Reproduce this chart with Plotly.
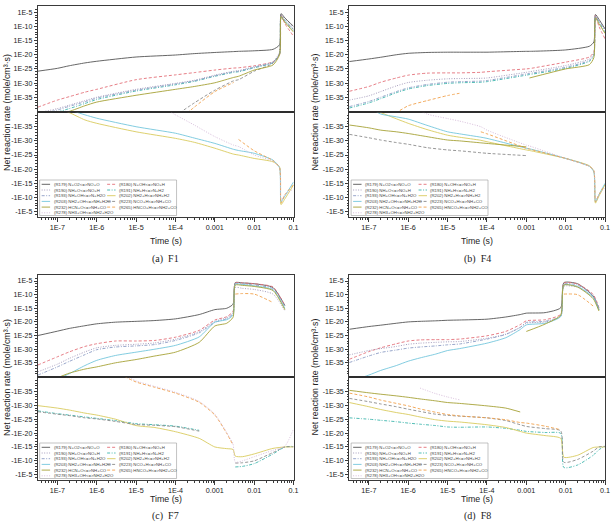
import plotly.graph_objects as go

W, H = 616, 523

REACTIONS = [
    "(R179) N+O2<=>NO+O", "(R180) N+OH<=>NO+H", "(R190) NH+O<=>NO+H",
    "(R191) NH+H<=>N+H2", "(R193) NH+OH<=>N+H2O", "(R202) NH2+H<=>NH+H2",
    "(R203) NH2+OH<=>NH+H2O", "(R223) NCO+H<=>NH+CO", "(R232) HCN+O<=>NH+CO",
    "(R265) HNCO+H<=>NH2+CO", "(R278) NH3+OH<=>NH2+H2O",
]
COLORS = ["#555555", "#e36f78", "#9d93b5", "#3db5ad", "#8c9cc4", "#d9cb5e",
          "#74c6dc", "#8a8a8a", "#a6a236", "#f0a04b", "#d2b6d6"]
DASHES = ["solid", "3px,2px", "1px,1.5px", "3px,1.5px,1px,1.5px", "3px,1.5px,1px,1.5px",
          "solid", "solid", "3px,2px", "solid", "3px,2px", "1px,1.5px"]

X_TICKS = [1e-7, 1e-6, 1e-5, 1e-4, 1e-3, 1e-2, 1e-1]
X_TICKTEXT = ["1E-7", "1E-6", "1E-5", "1E-4", "0.001", "0.01", "0.1"]
Y_TICKS = [1e-5, 1e-10, 1e-15, 1e-20, 1e-25, 1e-30, 1e-35]
Y_TICKTEXT_POS = ["1E-5", "1E-10", "1E-15", "1E-20", "1E-25", "1E-30", "1E-35"]
Y_TICKTEXT_NEG = ["-1E-5", "-1E-10", "-1E-15", "-1E-20", "-1E-25", "-1E-30", "-1E-35"]

# ---------------- (a) F1 ----------------
T_F1 = [3.2e-8, 1e-7, 2e-7, 5e-7, 1e-6, 1e-5, 1e-4, 3e-4, 1e-3, 3e-3, 4e-3, 1e-2, 3e-2, 4.4e-2, 4.8e-2, 6e-2, 1e-1]
F1_R179 = [1.6e-26, 1.6e-25, 1.3e-24, 1.3e-23, 5e-23, 1.6e-21, 8e-21, 2.5e-20, 6.3e-20, 1.3e-19, 1.6e-19, 2.5e-19, 8e-19, 3.2e-17, 3.2e-6, 1e-7, 1e-10]
F1_R180 = [3.2e-39, 1e-36, 1.6e-35, 6.3e-34, 6.3e-33, 1.6e-29, 8e-28, 5e-27, 4e-26, 2e-25, 2.5e-25, 1.3e-24, 3.2e-23, 1e-20, 1e-6, 1e-9, 3.2e-14]
F1_R190 = [3.2e-41, 1e-39, 1.6e-38, 6.3e-37, 1e-35, 6.3e-33, 8e-31, 1e-29, 6.3e-28, 1.6e-26, 2.5e-26, 6.3e-25, 3.2e-23, 1e-19, 1e-6, 3.2e-8, 3.2e-11]
F1_R191 = [3.2e-42, 6.3e-41, 1e-39, 6.3e-38, 1.6e-36, 1.6e-33, 2.5e-31, 4e-30, 2.5e-28, 6.3e-27, 1e-26, 2.5e-25, 1.6e-23, 1.6e-20, 3.2e-7, 1e-8, 3.2e-12]
F1_R193 = [1e-41, 3.2e-40, 6.3e-39, 2.5e-37, 5e-36, 3.2e-33, 5e-31, 6.3e-30, 4e-28, 1e-26, 1.6e-26, 4e-25, 2e-23, 3.2e-20, 6.3e-7, 1.6e-8, 1e-11]
F1_R202 = [None, -3.2e-42, -1e-40, -4e-38, -6.3e-37, -6.3e-34, -1.3e-31, -3.2e-30, -4e-28, -5e-26, -1e-25, -1.6e-24, -2.5e-23, -1.6e-21, -3.2e-8, -3.2e-10, -3.2e-15]
F1_R203 = [None, None, -1e-41, -6.3e-40, -1e-38, -1e-35, -2e-33, -1e-31, -8e-30, -1e-27, -2.5e-27, -2.5e-26, -6.3e-24, -3.2e-21, -3.2e-9, -3.2e-11, -3.2e-16]
F1_R223 = [None, None, None, None, None, None, 3.2e-42, 1e-37, 3.2e-33, 6.3e-30, 1.6e-29, 1.6e-26, 1e-23, 3.2e-20, 1.6e-7, 3.2e-9, 1e-11]
F1_R232 = [None, 1e-41, 1e-40, 1e-38, 2e-37, 5e-35, 6.3e-33, 6.3e-32, 1.3e-30, 1e-28, 2.5e-28, 4e-26, 2.5e-24, 1e-20, 3.2e-7, 3.2e-9, 1e-12]
F1_R265 = [None, None, None, None, None, None, 1e-44, 3.2e-39, 1e-33, 1.6e-30, -3.2e-31, -3.2e-27, -1e-23, -3.2e-21, -1e-8, -1e-11, -3.2e-15]
F1_R278 = [None, None, None, None, None, -1e-47, -6.3e-40, -2.5e-36, -3.2e-32, -3.2e-29, -1e-28, -1e-25, -1.6e-23, -3.2e-21, -1e-9, -1e-11, -1e-13]

# ---------------- (b) F4 ----------------
T_F4 = [3.2e-8, 1e-7, 2e-7, 5e-7, 1e-6, 3e-6, 1e-5, 2e-5, 7e-5, 1e-4, 1e-3, 1.2e-3, 1e-2, 4e-2, 5.2e-2, 5.7e-2, 7e-2, 1e-1]
F4_R179 = [4e-23, 3.2e-22, 1.3e-21, 1e-20, 3.2e-20, 6.3e-20, 8e-20, 8e-20, 8e-20, 8e-20, 1.6e-19, 1.6e-19, 5e-19, 1e-17, 3.2e-16, 1.6e-6, 3.2e-8, 1.3e-11]
F4_R180 = [1.3e-33, 6.3e-32, 2e-30, 6.3e-29, 6.3e-28, 3.2e-27, 4e-27, 4e-27, 6.3e-27, 1e-26, 1e-25, 1.3e-25, 2.5e-23, 1.6e-21, 1e-19, 1e-6, 1e-10, 4e-15]
F4_R190 = [1e-36, 3.2e-35, 1e-33, 1e-31, 1.6e-30, 1e-29, 3.2e-29, 4e-29, 5e-29, 6.3e-29, 6.3e-27, 1e-26, 1.6e-24, 3.2e-22, 3.2e-20, 6.3e-7, 1e-8, 1e-11]
F4_R191 = [1.6e-39, 1e-37, 3.2e-36, 4e-34, 8e-33, 1.3e-31, 8e-31, 1.3e-30, 2e-30, 3.2e-30, 6.3e-28, 1e-27, 1.6e-25, 5e-23, 5e-21, 2e-7, 3.2e-9, 1e-12]
F4_R193 = [5e-39, 3.2e-37, 1e-35, 1e-33, 2e-32, 3.2e-31, 2e-30, 3.2e-30, 5e-30, 8e-30, 1.6e-27, 2.5e-27, 4e-25, 1e-22, 1e-20, 3.2e-7, 6.3e-9, 3.2e-12]
F4_R202 = [None, -3.2e-42, -1e-40, -1.6e-38, -6.3e-37, -1e-34, -1e-32, -5e-32, -6.3e-31, -2e-30, -1.6e-27, -2.5e-27, -1.6e-24, -6.3e-22, -5e-20, -1e-8, -3.2e-11, -3.2e-15]
F4_R203 = [None, -1e-42, -3.2e-40, -3.2e-39, -2e-38, -3.2e-36, -6.3e-34, -3.2e-33, -5e-32, -1.3e-31, -4e-28, -6.3e-28, -1.6e-24, -1e-21, -1e-19, -3.2e-9, -1e-11, -1e-15]
F4_R223 = [-5e-33, -8e-32, -5e-31, -4e-30, -1.6e-29, -2.5e-28, -1.6e-27, -3.2e-27, -1.6e-26, -2.5e-26, -1.6e-25, None, None, None, None, None, None, None]
F4_R232 = [-2.5e-36, -2.5e-35, -1.6e-34, -6.3e-34, -2.5e-33, -3.2e-32, -5e-31, -1e-30, -5e-30, -8e-30, -1.3e-28, 6.3e-29, 1e-25, 3.2e-24, 1e-21, 1e-7, 1e-9, 3.2e-13]
F4_R265 = [None, None, 3.2e-42, 5e-41, 1e-38, 6.3e-37, 4e-35, 2.5e-34, -6.3e-34, -3.2e-33, -4e-28, -8e-28, -1.6e-24, -1e-21, -3.2e-20, -3.2e-9, -1e-11, -3.2e-15]
F4_R278 = [None, None, None, None, -1e-43, -3.2e-40, -1.3e-38, -1e-37, -1e-35, -1.6e-34, -3.2e-29, -6.3e-29, -1.6e-24, -1e-21, -3.2e-20, -1e-9, -1e-11, -3.2e-14]

# ---------------- (c) F7 ----------------
T_F7 = [3.2e-8, 1e-7, 2e-7, 5e-7, 1e-6, 3e-6, 1e-5, 3e-5, 1e-4, 4e-4, 1e-3, 2e-3, 2.9e-3, 3.3e-3, 5e-3, 1e-2, 3e-2, 6e-2, 1e-1]
F7_R179 = [1e-25, 4e-24, 4e-23, 4e-22, 2e-21, 8e-21, 1.6e-20, 3.2e-20, 1.3e-19, 5e-18, 3.2e-16, 1e-15, 3.2e-14, 2.5e-6, 2e-6, 1e-6, 4e-8, 1e-14, None]
F7_R180 = [1.6e-36, 1.6e-33, 1e-31, 1e-29, 1e-28, 1e-27, 1e-27, 1.6e-27, 2.5e-26, 8e-24, 5e-20, 8e-19, 8e-17, 2e-6, 2e-6, 1e-6, 6.3e-8, 1e-14, None]
F7_R190 = [5e-39, 3.2e-36, 4e-34, 1e-31, 3.2e-30, 2.5e-29, 6.3e-29, 2e-28, 5e-27, 2.5e-24, 1.6e-20, 3.2e-19, 2.5e-17, 4e-8, 2e-8, 8e-9, 1.6e-10, 1.3e-16, None]
F7_R191 = [-1e-28, -1e-27, -3.2e-27, -1.6e-26, -5e-26, -3.2e-25, -4e-24, -1e-23, -3.2e-23, -1e-21, None, None, None, -1.6e-8, -1e-8, -1e-9, -3.2e-13, -1e-15, -6.3e-16]
F7_R193 = [3.2e-40, 3.2e-37, 3.2e-35, 1e-32, 6.3e-31, 6.3e-30, 1.6e-29, 5e-29, 1.6e-27, 1e-24, 6.3e-21, 1.6e-19, 1e-17, 1e-6, 8e-7, 3.2e-7, 1.6e-8, 3.2e-15, None]
F7_R202 = [-1.3e-30, -1e-29, -5e-29, -6.3e-28, -3.2e-27, -1e-25, -2e-23, -1e-22, -3.2e-21, -8e-19, -1e-15, -4e-15, -8e-15, -2e-12, -3.2e-12, -3.2e-13, -3.2e-15, -1e-15, -1e-15]
F7_R203 = [None, 1e-41, 1e-39, 1e-36, 8e-35, 5e-33, 8e-32, 1e-30, 2.5e-29, 3.2e-26, 8e-21, 6.3e-20, 3.2e-18, 6.3e-7, 5e-7, 1.6e-7, 6.3e-9, 1e-15, None]
F7_R223 = [-2e-28, -1.6e-27, -5e-27, -3.2e-26, -8e-26, -6.3e-25, -8e-24, -1.6e-23, -5e-23, -2e-21, None, None, None, -6.3e-10, -5e-10, -1e-10, -1e-13, -1e-15, -8e-16]
F7_R232 = [None, 3.2e-41, 1.6e-39, 5e-38, 3.2e-37, 1e-35, 1.6e-34, 3.2e-33, 8e-32, 3.2e-28, 3.2e-22, 3.2e-21, 5e-19, 3.2e-7, 2.5e-7, 1e-7, 3.2e-9, 3.2e-16, None]
F7_R265 = [None, None, None, None, None, -1e-42, -4e-39, -3.2e-37, -4e-35, -8e-32, -3.2e-27, -1.3e-20, -2e-16, 1.6e-10, 2.5e-10, 1.6e-10, 1.3e-13, None, None]
F7_R278 = [None, None, None, None, None, -3.2e-43, -1.6e-39, -1.6e-37, -2e-35, -4e-32, -1.6e-27, -6.3e-21, -1e-16, -3.2e-10, -1e-10, -3.2e-12, -1.6e-14, -5e-16, -3.2e-22]

# ---------------- (d) F8 ----------------
T_F8 = [3.2e-8, 1e-7, 2e-7, 5e-7, 1e-6, 2e-6, 5e-6, 1e-5, 2e-5, 1e-4, 3e-4, 7e-4, 1e-3, 3e-3, 7.5e-3, 9e-3, 2e-2, 5e-2, 7e-2, 1e-1]
F8_R179 = [2e-23, 2e-22, 6.3e-22, 3.2e-21, 1e-20, 1.6e-20, 2.5e-20, 4e-20, 5e-20, 1e-19, 6.3e-19, 5e-18, 1.6e-17, 2.5e-17, 1.6e-15, 2.5e-6, 1e-6, 3.2e-11, 4e-16, None]
F8_R180 = [2e-34, 1.3e-31, 3.2e-30, 1e-28, 1e-27, 2.5e-27, 3.2e-27, 3.2e-27, 5e-27, 8e-26, 3.2e-24, 1e-21, 2.5e-20, 6.3e-20, 6.3e-18, 1.6e-6, 8e-7, 1.3e-10, 1.6e-15, None]
F8_R190 = [8e-33, 3.2e-31, 1.6e-30, 1e-29, 6.3e-29, 1.6e-28, 3.2e-28, 5e-28, 6.3e-28, 1e-26, 3.2e-25, 1e-22, 3.2e-21, 1e-20, 1e-18, 1e-7, 5e-8, 1e-11, 3.2e-16, None]
F8_R191 = [-3.2e-26, -1e-25, -2.5e-25, -8e-25, -2.5e-24, -6.3e-24, -2e-23, -6.3e-23, -8e-23, -6.3e-23, -2e-22, -1e-21, -2.5e-21, -6.3e-21, -1.3e-20, -2.5e-8, -3.2e-9, -1e-12, -1e-14, -5e-16]
F8_R193 = [1.3e-35, 3.2e-33, 6.3e-32, 5e-31, 2.5e-30, 6.3e-30, 1.6e-29, 4e-29, 8e-29, 5e-27, 2.5e-25, 1e-22, 6.3e-21, 1.6e-20, 1.6e-18, 6.3e-7, 3.2e-7, 3.2e-11, 1e-15, None]
F8_R202 = [-1e-31, -3.2e-30, -3.2e-29, -4e-28, -2e-27, -1.6e-26, -1.6e-25, -5e-25, -1e-24, -1e-23, -1e-22, -2.5e-21, -1e-20, -8e-20, -8e-19, -5e-12, -1e-12, -1.6e-15, -1e-15, -1e-15]
F8_R203 = [1e-42, 3.2e-40, 1.6e-38, 1e-36, 4e-35, 6.3e-34, 1.6e-32, 3.2e-31, 1.6e-30, 1.6e-28, 1.6e-26, 1.6e-23, 8e-22, 3.2e-21, 1e-18, 3.2e-7, 1e-7, 1e-11, 2.5e-16, None]
F8_R223 = [-3.2e-33, -5e-32, -3.2e-31, -3.2e-30, -2.5e-29, -1.6e-28, -1.6e-27, -4e-27, -8e-27, -3.2e-26, -3.2e-25, -1e-23, -4e-23, -2.5e-22, -1.6e-21, -3.2e-10, -3.2e-11, -3.2e-14, -1e-15, -6.3e-16]
F8_R232 = [-4e-36, -3.2e-35, -1e-34, -4e-34, -1.3e-33, -5e-33, -2.5e-32, -1e-31, -2e-31, -1.6e-30, -1e-29, -2.5e-28, 3.2e-24, 1.6e-21, 3.2e-18, 3.2e-7, 6.3e-8, 3.2e-12, 1e-16, None]
F8_R265 = [-4e-35, -1e-33, -1.3e-32, -2e-31, -1.6e-30, -2e-29, -3.2e-28, -2e-27, -6.3e-27, -3.2e-26, -1.6e-25, -1.6e-24, -2.5e-24, -3.2e-23, -6.3e-22, 1.6e-10, 1e-10, 6.3e-15, None, None]
F8_R278 = [None, None, None, None, None, -6.3e-37, -6.3e-35, -1e-33, -1e-32, None, None, None, None, None, None, None, None, None, None, None]

PANELS = [
    dict(t=T_F1, col=0, row=0, cap="(a)  F1",
         series=[F1_R179, F1_R180, F1_R190, F1_R191, F1_R193, F1_R202, F1_R203, F1_R223, F1_R232, F1_R265, F1_R278]),
    dict(t=T_F4, col=1, row=0, cap="(b)  F4",
         series=[F4_R179, F4_R180, F4_R190, F4_R191, F4_R193, F4_R202, F4_R203, F4_R223, F4_R232, F4_R265, F4_R278]),
    dict(t=T_F7, col=0, row=1, cap="(c)  F7",
         series=[F7_R179, F7_R180, F7_R190, F7_R191, F7_R193, F7_R202, F7_R203, F7_R223, F7_R232, F7_R265, F7_R278]),
    dict(t=T_F8, col=1, row=1, cap="(d)  F8",
         series=[F8_R179, F8_R180, F8_R190, F8_R191, F8_R193, F8_R202, F8_R203, F8_R223, F8_R232, F8_R265, F8_R278]),
]

# pixel geometry of the panels
COL_X = [(38, 296), (352, 610)]
ROW_Y = [(6, 112, 217), (275, 377, 480)]
YTITLE_X = [7, 318]
TIME_Y = [241, 499]
CAP_Y = [259, 516]

FRAME = "#3a3a3a"
FONT = "Liberation Sans, Arial, sans-serif"


def px(x):
    return x / W


def py(y):
    return 1 - y / H


x_minor = [m * 10.0 ** d for d in range(-8, -1) for m in range(2, 10)]
y_minor = [10.0 ** d for d in range(-40, -3) if d % 5 != 0]

fig = go.Figure()
layout = dict(width=W, height=H, margin=dict(l=0, r=0, t=0, b=0),
              paper_bgcolor="white", plot_bgcolor="white", showlegend=False,
              font=dict(family=FONT, size=7, color="#222"))
shapes, annotations = [], []

for k, p in enumerate(PANELS):
    x0, x1 = COL_X[p["col"]]
    top, split, bot = ROW_Y[p["row"]]
    for part in (0, 1):
        n = 2 * k + 1 + part
        xname = "xaxis" if n == 1 else f"xaxis{n}"
        yname = "yaxis" if n == 1 else f"yaxis{n}"
        xr = "x" if n == 1 else f"x{n}"
        yr = "y" if n == 1 else f"y{n}"
        xa = dict(type="log", range=[-7.5, -1], domain=[px(x0), px(x1)], anchor=yr,
                  showline=True, mirror=True, linecolor=FRAME, linewidth=1,
                  showgrid=False, zeroline=False)
        if part == 1:
            xa.update(tickmode="array", tickvals=X_TICKS, ticktext=X_TICKTEXT,
                      ticks="outside", ticklen=3.5, tickwidth=0.8, tickcolor=FRAME,
                      tickfont=dict(size=7.2, family=FONT, color="#222"),
                      minor=dict(tickmode="array", tickvals=x_minor, ticks="outside",
                                 ticklen=2, tickwidth=0.6, tickcolor=FRAME, showgrid=False))
        else:
            xa.update(showticklabels=False, ticks="")
        layout[xname] = xa
        if part == 0:
            ya = dict(type="log", range=[-40.2, -2.8], domain=[py(split), py(top)],
                      ticktext=Y_TICKTEXT_POS)
        else:
            ya = dict(type="log", range=[-3.1, -40.2], domain=[py(bot), py(split)],
                      ticktext=Y_TICKTEXT_NEG)
        ya.update(anchor=xr, tickmode="array", tickvals=Y_TICKS, ticks="outside",
                  ticklen=3, tickwidth=0.8, tickcolor=FRAME, showline=True, mirror=True,
                  linecolor=FRAME, linewidth=1, showgrid=False, zeroline=False,
                  tickfont=dict(size=7, family=FONT, color="#222"),
                  minor=dict(tickmode="array", tickvals=y_minor, ticks="outside",
                             ticklen=1.5, tickwidth=0.6, tickcolor=FRAME, showgrid=False))
        layout[yname] = ya
        for s, vals in enumerate(p["series"]):
            if part == 0:
                yv = [v if (v is not None and v > 0) else None for v in vals]
            else:
                yv = [-v if (v is not None and v < 0) else None for v in vals]
            if all(v is None for v in yv):
                continue
            fig.add_trace(go.Scatter(
                x=p["t"], y=yv, xaxis=xr, yaxis=yr, mode="lines", connectgaps=False,
                name=REACTIONS[s], hoverinfo="skip",
                line=dict(color=COLORS[s], width=0.9, dash=DASHES[s],
                          shape="spline", smoothing=0.6)))

    # in-plot legend (two columns, six rows)
    shapes.append(dict(type="rect", xref="paper", yref="paper",
                       x0=px(x0 + 2), x1=px(x0 + 140), y0=py(bot - 1.5), y1=py(bot - 37),
                       fillcolor="white", line=dict(color="#9a9a9a", width=0.6), layer="above"))
    for s, lab in enumerate(REACTIONS):
        row, colm = divmod(s, 2)
        yy = bot - 32.7 + 5.7 * row
        lx0 = x0 + (4 if colm == 0 else 70)
        shapes.append(dict(type="line", xref="paper", yref="paper",
                           x0=px(lx0), x1=px(lx0 + 8.5), y0=py(yy), y1=py(yy),
                           line=dict(color=COLORS[s], width=0.9, dash=DASHES[s]), layer="above"))
        annotations.append(dict(xref="paper", yref="paper", x=px(lx0 + 10), y=py(yy),
                                xanchor="left", yanchor="middle", showarrow=False,
                                text=lab.replace("<", "&lt;").replace(">", "&gt;"),
                                font=dict(size=4.3, family=FONT, color="#444")))

    r = p["row"]
    cx = (x0 + x1) / 2
    annotations.append(dict(xref="paper", yref="paper", x=px(cx), y=py(TIME_Y[r]),
                            xanchor="center", yanchor="middle", showarrow=False,
                            text="Time (s)", font=dict(size=8.8, family=FONT, color="#222")))
    annotations.append(dict(xref="paper", yref="paper", x=px(YTITLE_X[p["col"]]), y=py(split),
                            xanchor="center", yanchor="middle", showarrow=False, textangle=-90,
                            text="Net reaction rate (mole/cm³·s)",
                            font=dict(size=8.8, family=FONT, color="#222")))
    annotations.append(dict(xref="paper", yref="paper", x=px(cx), y=py(CAP_Y[r]),
                            xanchor="center", yanchor="middle", showarrow=False,
                            text=p["cap"], font=dict(size=10, family="Liberation Serif, Times New Roman, serif",
                                                     color="#222")))
    # thicker divider between the positive and negative halves
    shapes.append(dict(type="line", xref="paper", yref="paper", x0=px(x0), x1=px(x1),
                       y0=py(split), y1=py(split), line=dict(color="#2a2a2a", width=1.4), layer="above"))

layout["shapes"] = shapes
layout["annotations"] = annotations
fig.update_layout(**layout)
fig.write_html("out.html")
